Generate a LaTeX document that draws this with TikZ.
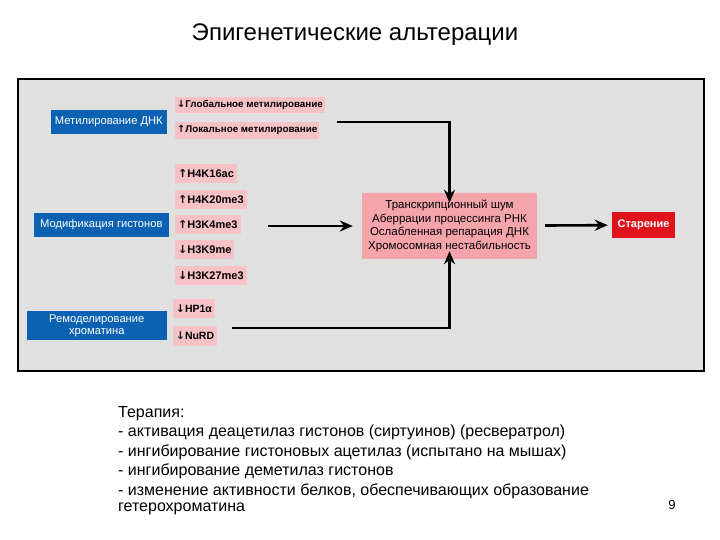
\documentclass[tikz,border=0pt]{standalone}
\usepackage{fontspec}
\setmainfont{Liberation Sans}
\newfontfamily\arrowfont{DejaVu Sans}
\usetikzlibrary{positioning,arrows.meta}

\definecolor{panelgray}{RGB}{224,224,224}
\definecolor{cellblue}{RGB}{12,98,178}
\definecolor{markpink}{RGB}{246,194,198}
\definecolor{effectpink}{RGB}{246,164,172}
\definecolor{agered}{RGB}{224,18,28}

\newcommand{\arrup}{{\arrowfont\bfseries ↑}}
\newcommand{\arrdown}{{\arrowfont\bfseries ↓}}

\begin{document}
\begin{tikzpicture}[x=1pt, y=-1pt,
    bluebox/.style={fill=cellblue, text=white, font=\fontsize{11.2}{12}\selectfont, align=center, anchor=east, minimum height=24pt, inner sep=1pt},
    markbox/.style={fill=markpink, font=\bfseries\fontsize{9.8}{10}\selectfont, minimum height=17pt, inner xsep=2pt, inner ysep=1pt},
    histmark/.style={markbox, font=\bfseries\fontsize{11}{12}\selectfont, minimum height=19pt, inner xsep=3pt},
    link/.style={line width=2.6pt, -{Stealth[length=13pt,width=11pt]}}]
    \useasboundingbox (0,0) rectangle (720,540);

    % Title and panel
    \node (title) at (355,35) {\fontsize{24}{28}\selectfont Эпигенетические альтерации};
    \draw[fill=panelgray, line width=1.2pt] (18,79) rectangle (704,371);

    % Left column
    \node[bluebox, minimum width=116pt] (methyl) at (167,122) {Метилирование ДНК};
    \node[bluebox, minimum width=135pt] (histone) at (169,225) {Модификация гистонов};
    \node[bluebox, minimum width=140pt, minimum height=29pt] (remodel) at (167,325.5) {Ремоделирование\\хроматина};

    % Marks
    \node[markbox, anchor=north west, minimum height=16pt] (glob) at (175,97) {\arrdown Глобальное метилирование};
    \node[markbox, below=8pt of glob.south west, anchor=north west] (loc) {\arrup Локальное метилирование};

    \node[histmark, anchor=north west] (h4k16) at (175,164) {\arrup H4K16ac};
    \node[histmark, below=6pt of h4k16.south west, anchor=north west] (h4k20) {\arrup H4K20me3};
    \node[histmark, below=6pt of h4k20.south west, anchor=north west] (h3k4) {\arrup H3K4me3};
    \node[histmark, below=6pt of h3k4.south west, anchor=north west] (h3k9) {\arrdown H3K9me};
    \node[histmark, below=6pt of h3k9.south west, anchor=north west] (h3k27) {\arrdown H3K27me3};

    \node[histmark, anchor=north west, font=\bfseries\fontsize{10.5}{12}\selectfont] (hp1) at (173,299) {\arrdown HP1α};
    \node[histmark, below=7pt of hp1.south west, anchor=north west, minimum height=20pt, font=\bfseries\fontsize{10.5}{12}\selectfont] (nurd) {\arrdown NuRD};

    % Effects
    \node[fill=effectpink, align=center, font=\fontsize{11.5}{13.4}\selectfont, minimum width=175pt, minimum height=66pt] (effect) at (449.5,226)
        {Транскрипционный шум\\Аберрации процессинга РНК\\Ослабленная репарация ДНК\\Хромосомная нестабильность};
    \node[fill=agered, text=white, font=\bfseries\fontsize{11}{12}\selectfont, minimum width=63pt, minimum height=26pt] (age) at (643.5,225) {Старение};

    % Connections
    \coordinate (mstart) at (337,122);
    \coordinate (hstart) at (268,226);
    \coordinate (rstart) at (232,328);
    \draw[link] (mstart) -| ([yshift=-10pt]effect.north);
    \draw[link] (hstart) -- ([xshift=-9pt]effect.west);
    \draw[link] (rstart) -| ([yshift=8pt]effect.south);
    \draw[link, shorten <=8pt, shorten >=4pt] (effect) -- (age);

    % Therapy
    \node[anchor=north west, align=left, font=\fontsize{16}{16}\selectfont, inner sep=0pt] (therapy) at (118,406)
        {Терапия:\\[3.5pt]
         - активация деацетилаз гистонов (сиртуинов) (ресвератрол)\\[3.5pt]
         - ингибирование гистоновых ацетилаз (испытано на мышах)\\[3.5pt]
         - ингибирование деметилаз гистонов\\[3.5pt]
         - изменение активности белков, обеспечивающих образование\\
         гетерохроматина};
    \node[font=\fontsize{13}{15}\selectfont] (page) at (672,505) {9};
\end{tikzpicture}
\end{document}
